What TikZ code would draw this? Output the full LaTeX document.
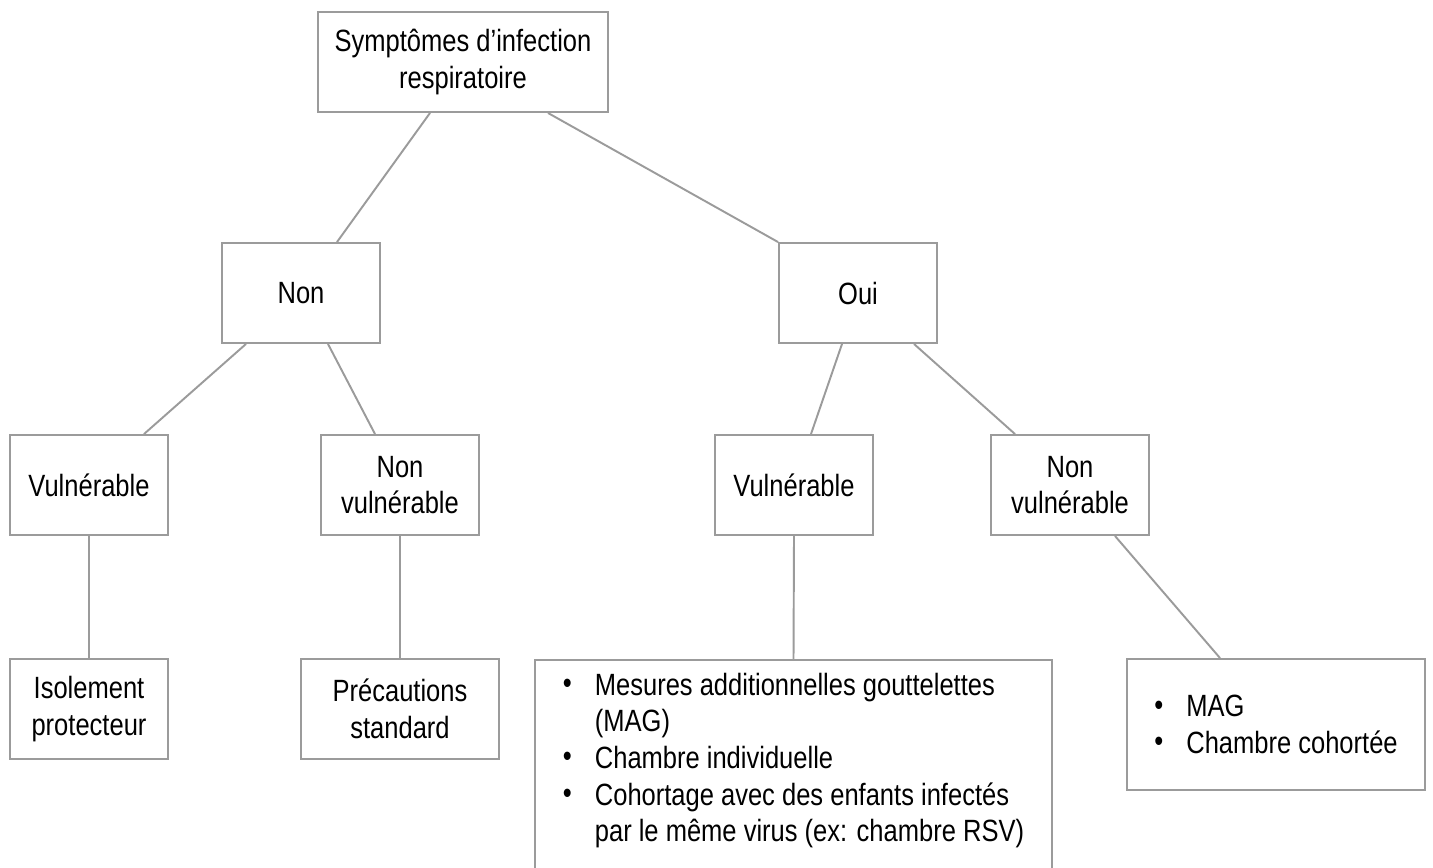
\documentclass[tikz,border=0pt]{standalone}
\usepackage{fontspec}
\setmainfont[FakeStretch=0.83]{Liberation Sans}
\usetikzlibrary{calc}
\definecolor{edgegray}{RGB}{155,155,155}
\tikzset{choice/.style = {draw=edgegray, line width=1.1pt, align=center, minimum width=3.16cm, minimum height=2cm, inner sep=2pt},
         action/.style = {draw=edgegray, line width=1.1pt, align=left, inner xsep=0pt},
         line/.style = {draw=edgegray, line width=1.1pt}}
\def\bulletgap{0.64cm}
\newcommand{\bitem}[1]{\makebox[\bulletgap][l]{\raisebox{0.1ex}{\textbullet}}#1}
\newcommand{\bcont}[1]{\hspace*{\bulletgap}#1}

\begin{document}
\begin{tikzpicture}[x=0.02cm, y=-0.02cm, font=\fontsize{17.5}{20.8}\selectfont]
\useasboundingbox (0,0) rectangle (1433,867);

\node (symp) [choice, minimum width=5.8cm] at (463,62) {Symptômes d’infection\\respiratoire};

\node (non) [choice] at (301,293) {Non};
\node (oui) [choice] at (858,293) {Oui};

\node (vulnL) [choice] at (89,485) {Vulnérable};
\node (nvulnL) [choice] at (400,485) {Non\\vulnérable};
\node (vulnR) [choice] at (794,485) {Vulnérable};
\node (nvulnR) [choice] at (1070,485) {Non\\vulnérable};

\node (isol) [choice] at (89,709) {Isolement\\protecteur};
\node (prec) [choice, minimum width=3.96cm] at (400,709) {Précautions\\standard};
\node (mag) [action, anchor=north, minimum width=10.34cm, inner ysep=7.5pt] at (793.5,659) {%
  \bitem{Mesures additionnelles gouttelettes}\\
  \bcont{(MAG)}\\
  \bitem{Chambre individuelle}\\
  \bitem{Cohortage avec des enfants infectés}\\
  \bcont{par le même virus (ex: chambre RSV)}\rule[-14pt]{0pt}{0pt}};
\node (cohort) [action, minimum width=5.96cm, minimum height=2.62cm] at (1276,724.5) {%
  \bitem{MAG}\\
  \bitem{Chambre cohortée}};

% Draw connections between nodes
\draw [line] ([xshift=-0.66cm]symp.south) -- ([xshift=0.72cm]non.north);
\draw [line] ([xshift=1.7cm]symp.south) -- (oui.north west);
\draw [line] ([xshift=-1.1cm]non.south) -- ([xshift=1.1cm]vulnL.north);
\draw [line] ([xshift=0.54cm]non.south) -- ([xshift=-0.5cm]nvulnL.north);
\draw [line] ([xshift=-0.32cm]oui.south) -- ([xshift=0.34cm]vulnR.north);
\draw [line] ([xshift=1.12cm]oui.south) -- ([xshift=-1.1cm]nvulnR.north);
\draw [line] (vulnL) -- (isol);
\draw [line] (nvulnL) -- (prec);
\draw [line] (vulnR.south) -- (mag.north);
\draw [line] ([xshift=0.9cm]nvulnR.south) -- ([xshift=-1.12cm]cohort.north);
\end{tikzpicture}
\end{document}
